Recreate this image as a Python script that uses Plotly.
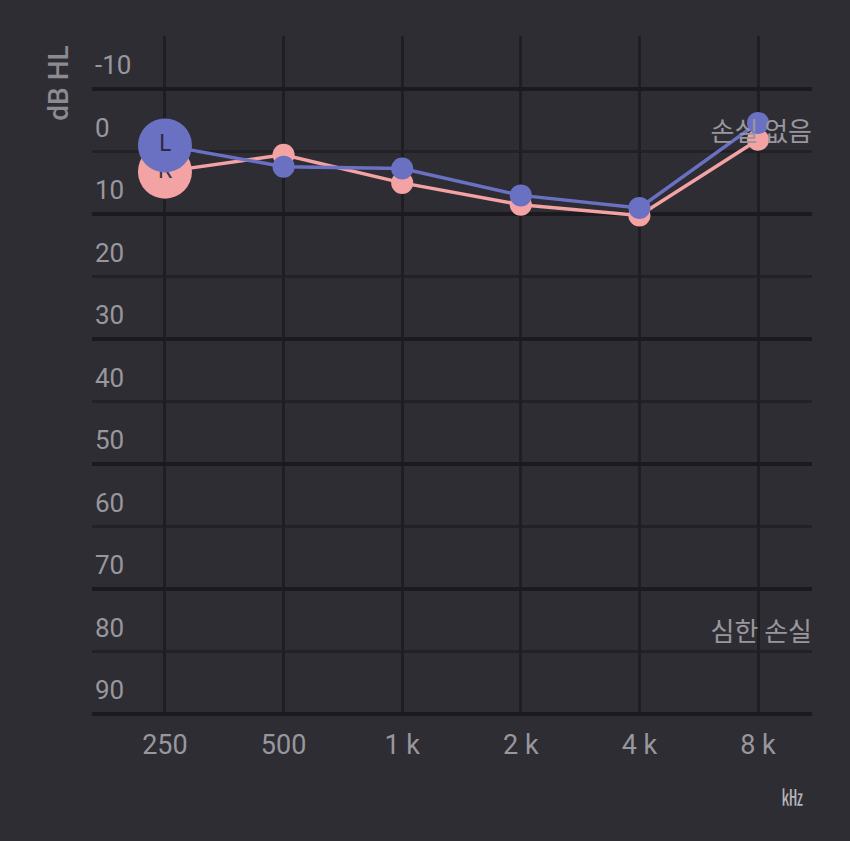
import plotly.graph_objects as go

freq_labels = ["250", "500", "1 k", "2 k", "4 k", "8 k"]
left_db = [-1, 2.4, 2.7, 7.0, 9.0, -4.6]
right_db = [3.2, 0.5, 5.0, 8.5, 10.2, -1.9]
db_ticks = [-10, 0, 10, 20, 30, 40, 50, 60, 70, 80, 90]
db_labels = ["-10", "0", "10", "20", "30", "40", "50", "60", "70", "80", "90"]
zone_labels = ["손실 없음", "심한 손실"]
zone_db = [-2.7, 77.3]

BG = "#2f2d34"
BLUE = "#6a71c3"
PINK = "#f4a3a4"
GREY = "#98979d"
FONT = "Roboto, 'Noto Sans CJK KR', sans-serif"

x_range = [-0.615, 5.455]
y_range = [90.3, -18.5]

fig = go.Figure()

# zone text drawn below the data
fig.add_trace(go.Scatter(
    x=[x_range[1], x_range[1]], y=zone_db, mode="text", text=zone_labels,
    textposition="middle left", cliponaxis=False,
    textfont=dict(family="'Noto Sans CJK KR', sans-serif", size=26, color=GREY),
    hoverinfo="skip", showlegend=False, xaxis="x2", yaxis="y2"))

big = 54
small = 22
fig.add_trace(go.Scatter(
    x=freq_labels, y=right_db, mode="lines+markers+text",
    line=dict(color=PINK, width=3.5),
    marker=dict(color=PINK, size=[big] + [small] * 5, opacity=1,
                line=dict(width=0)),
    text=["R"] + [""] * 5, textposition="middle center",
    textfont=dict(family="'Noto Sans', sans-serif", size=24, color="#3a3550"),
    showlegend=False))
fig.add_trace(go.Scatter(
    x=freq_labels, y=left_db, mode="lines+markers+text",
    line=dict(color=BLUE, width=3.5),
    marker=dict(color=BLUE, size=[big] + [small] * 5, opacity=1,
                line=dict(width=0)),
    text=["L"] + [""] * 5, textposition="middle center",
    textfont=dict(family="'Noto Sans', sans-serif", size=24, color="#2b2a4a"),
    showlegend=False))

fig.update_layout(
    width=850, height=841,
    margin=dict(l=92, r=38, t=36, b=125),
    paper_bgcolor=BG, plot_bgcolor=BG,
    font=dict(family=FONT, color=GREY),
    xaxis=dict(type="category", range=x_range, showgrid=True,
               gridcolor="#1f1e23", gridwidth=2.5, zeroline=False,
               showline=False, ticks="", tickfont=dict(size=27, color=GREY),
               ticklabelstandoff=10),
    xaxis2=dict(overlaying="x", range=x_range, visible=False),
    yaxis=dict(range=y_range, tickmode="linear", tick0=-10, dtick=20,
               showgrid=True, gridcolor="#1b1a1e", gridwidth=4,
               minor=dict(tickmode="linear", tick0=-10, dtick=10, showgrid=True,
                          gridcolor="#222126", gridwidth=2.5),
               zeroline=False, showline=False, showticklabels=False),
    yaxis2=dict(overlaying="y", range=y_range, tickmode="array",
                tickvals=db_ticks, ticktext=db_labels, showgrid=False,
                zeroline=False, side="left", ticks="",
                ticklabelposition="inside", ticklabelshift=24,
                tickfont=dict(size=26, color=GREY)),
    annotations=[
        dict(text="dB HL", xref="paper", yref="paper", x=-0.047, y=0.93,
             textangle=-90, showarrow=False, xanchor="center", yanchor="middle",
             font=dict(size=28, color="#8c8b91", family=FONT, weight=500)),
        dict(text="㎑", xref="paper", yref="paper", x=0.972, y=-0.116,
             showarrow=False, xanchor="center", yanchor="middle",
             font=dict(size=22, color="#b5b4b9", family="'Noto Sans CJK KR'")),
    ],
)

fig.write_html("out.html")
